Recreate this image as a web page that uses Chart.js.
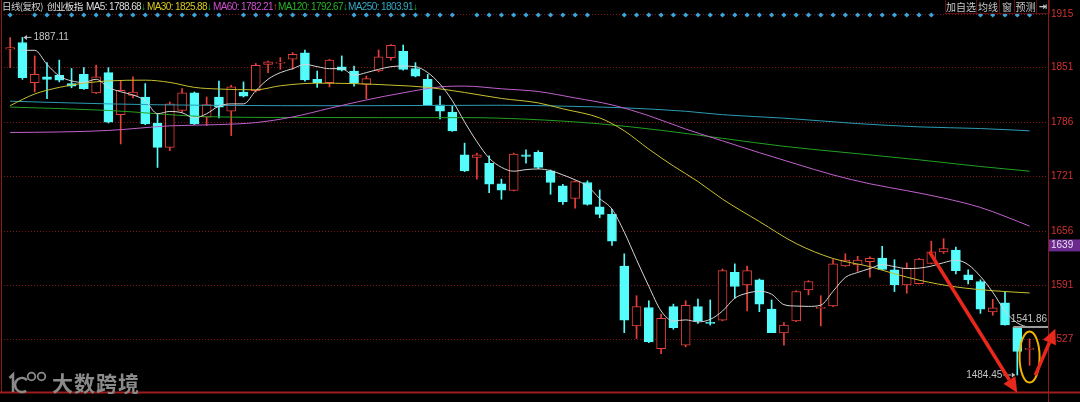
<!DOCTYPE html>
<html lang="zh-CN">
<head>
<meta charset="utf-8">
<title>创业板指 日线(复权)</title>
<script src="https://cdn.jsdelivr.net/npm/chart.js@4.4.1/dist/chart.umd.min.js"></script>
<style>
  body { margin: 0; background: #000; }
  #lienzo { position: relative; width: 1080px; height: 402px; overflow: hidden; background: #000; }
  #grafico { position: absolute; left: 0; top: 0; }
  .cab { position: absolute; top: 0; line-height: 13px; font-size: 10px; white-space: nowrap; font-family: "Liberation Sans", sans-serif; letter-spacing: -0.6px; }
  .cjk { font-family: "Noto Sans CJK SC", sans-serif; font-size: 9.5px; letter-spacing: -0.6px; color: #d0d0d0; }
  .baja { color: #1fbf3f; }
  .sube { color: #f03a3a; }
  #botones { position: absolute; left: 945px; top: 0; height: 13px; display: flex; border-left: 1px solid #5a1010; border-bottom: 1px solid #5a1010; }
  #botones span { font-family: "Noto Sans CJK SC", sans-serif; font-size: 10px; line-height: 13px; color: #c8c8c8; text-align: center; border-right: 1px solid #5a1010; }
  #marca { position: absolute; left: 52px; top: 367px; font-family: "Noto Sans CJK SC", sans-serif; font-weight: 700; font-size: 21px; color: #8a8a8a; letter-spacing: 1px; }
</style>
</head>
<body>
<div id="lienzo">
  <canvas id="grafico" width="1080" height="402"></canvas>

  <!-- Cabecera con las medias móviles -->
  <span class="cab cjk" style="left:2px">日线(复权)</span>
  <span class="cab cjk" style="left:47px;color:#e8e8e8">创业板指</span>
  <span class="cab" style="left:86px;color:#dcdcdc">MA5: 1788.68<span class="baja">↓</span></span>
  <span class="cab" style="left:147px;color:#d8c820">MA30: 1825.88<span class="baja">↓</span></span>
  <span class="cab" style="left:213px;color:#d050d0">MA60: 1782.21<span class="sube">↑</span></span>
  <span class="cab" style="left:278px;color:#26b426">MA120: 1792.67<span class="baja">↓</span></span>
  <span class="cab" style="left:348px;color:#34a8c4">MA250: 1803.91<span class="baja">↓</span></span>

  <!-- Botones de la esquina -->
  <div id="botones">
    <span style="width:30px">加自选</span>
    <span style="width:22px">均线</span>
    <span style="width:14px">窗</span>
    <span style="width:21px">预测</span>
    <span style="width:12px;font-family:'DejaVu Sans';font-weight:bold">⇥</span>
  </div>

  <!-- Marca de agua -->
  <div id="marca">大数跨境</div>
</div>

<script>
// Colores de las velas
const ROJO = '#e8403a';   // vela alcista (hueca)
const CIAN = '#54fcfc';   // vela bajista (rellena)

// Valores OHLC (vela 0 .. 83)
const aperturas = [1873, 1881, 1833, 1840, 1842, 1832, 1843, 1821, 1845, 1795,
  1818, 1816, 1785, 1756, 1800, 1821, 1792, 1816, 1799, 1822,
  1823.5, 1855, 1856.5, 1861, 1868.6, 1837, 1833, 1852, 1847, 1831,
  1847, 1863, 1870.5, 1850, 1837, 1806.6, 1798, 1747, 1744, 1737,
  1712.5, 1704.7, 1747, 1750, 1728, 1710, 1695, 1714, 1685, 1676,
  1614.5, 1543, 1565, 1516, 1566, 1520, 1566, 1547, 1550, 1607,
  1592, 1598, 1563, 1534.6, 1549, 1586, 1564, 1567, 1614.5, 1615.7,
  1619.6, 1624, 1610, 1592, 1593.4, 1617.6, 1631.4, 1633.4, 1604, 1596,
  1559.6, 1570.5, 1541.5, 1515];
const maximos = [1887, 1887.11, 1865, 1857, 1860, 1850, 1851, 1854, 1851, 1835,
  1840, 1832, 1796, 1810, 1826, 1822, 1816, 1835, 1830, 1834,
  1856, 1859, 1863, 1869, 1872, 1847, 1861, 1865, 1853, 1841,
  1872, 1878.4, 1878, 1857, 1843, 1817, 1805, 1761, 1749, 1746,
  1718, 1749, 1753, 1752, 1729, 1712, 1716, 1716, 1705, 1682,
  1629, 1579, 1573, 1557, 1569, 1573, 1575, 1574, 1611, 1617,
  1614.5, 1599, 1574, 1547, 1585, 1597, 1579, 1622, 1629, 1626,
  1625.4, 1638, 1622, 1618, 1623.5, 1644, 1647, 1637, 1610, 1598,
  1574.6, 1583, 1541.86, 1527.5];
const minimos = [1851, 1837, 1822, 1814, 1834, 1827, 1825, 1820, 1785, 1760,
  1815, 1783, 1732, 1752, 1798, 1783, 1782, 1791, 1770, 1816,
  1822, 1845, 1849, 1849, 1835, 1827.5, 1828, 1847, 1829, 1814,
  1846, 1860, 1848, 1840, 1806, 1790, 1775, 1727, 1718, 1702,
  1694, 1704, 1737, 1730.5, 1700, 1688, 1683.5, 1687, 1672, 1639,
  1535, 1528, 1523, 1510, 1539, 1518, 1546, 1544, 1549, 1576,
  1561, 1560, 1535, 1520, 1548, 1580, 1543, 1566, 1614, 1608,
  1601, 1610, 1584, 1582, 1593, 1617, 1629.4, 1605, 1593, 1558,
  1555.7, 1544, 1484.45, 1496];
const cierres = [1875, 1839, 1843, 1837, 1836, 1829, 1826, 1840, 1786, 1824,
  1822, 1784, 1756, 1808, 1821, 1784, 1807, 1804, 1828, 1817,
  1853.7, 1858, 1857.5, 1867, 1836.4, 1833, 1860, 1848, 1832.5, 1838,
  1864, 1877.6, 1849, 1841, 1806.6, 1799, 1775.7, 1728, 1747, 1712,
  1705, 1747.8, 1745, 1732, 1714, 1691, 1715, 1688, 1676, 1644,
  1550, 1566, 1524, 1552, 1541, 1567.5, 1549, 1546, 1609, 1590,
  1609, 1569, 1535, 1544, 1584, 1596, 1565, 1617, 1621.6, 1621.6,
  1623.5, 1610.5, 1592, 1612, 1622.8, 1631.4, 1635.3, 1609, 1598, 1563,
  1564.7, 1544.3, 1512.5, 1516];

// MA5 leída vela a vela (la primera no se ve)
const ma5 = [null, 1871.7, 1871.7, 1854.9, 1841.1, 1835.2, 1833.4, 1837.2, 1827.5, 1822.3,
  1818.4, 1811.7, 1796.1, 1798.8, 1797.2, 1791, 1796.1, 1805.1, 1807.8, 1807.8,
  1823.5, 1837.2, 1845.1, 1849.8, 1854.9, 1852.2, 1849.8, 1849.8, 1841.9, 1845.1,
  1849, 1852.2, 1852.9, 1852.2, 1845.1, 1831.4, 1811.7, 1786.3, 1762.8, 1743.1,
  1732.2, 1727.5, 1729.4, 1730.2, 1728.2, 1723.1, 1717.2, 1709.8, 1694.9, 1682.3,
  1654.9, 1622, 1590.2, 1560.8, 1549, 1550.2, 1547.8, 1550.8, 1560.8, 1576.1,
  1582, 1584.3, 1580.8, 1568.4, 1566.7, 1566.3, 1567.8, 1584.3, 1600.8, 1606.7,
  1611.4, 1616.1, 1613.7, 1611.4, 1611.9, 1614.3, 1618.4, 1621.4, 1616.1, 1602,
  1583.2, 1560.8, 1546.6, 1540.8];

// Medias largas: muestras leídas [vela, valor]
const ma30 = [[0, 1805.8], [2, 1819.6], [4, 1827.5], [6, 1832.5], [8, 1835.2], [11, 1836.1],
  [13, 1833.4], [15, 1827.5], [17, 1825.5], [20, 1824.6], [22, 1829.4], [25, 1832.5],
  [28, 1832], [31, 1830.2], [34, 1827.5], [37, 1821.4], [40, 1814.3], [43, 1809],
  [45, 1801.9], [48, 1791.1], [50, 1775.7], [52, 1753.8], [54, 1733.7], [56, 1715.2],
  [58, 1694.2], [61, 1667.5], [64, 1641.2], [67, 1623.4], [70, 1613.7], [72, 1605.2],
  [74, 1597.6], [77, 1589.5], [80, 1585], [83, 1582.3]];
const ma60 = [[0, 1773.7], [4, 1774.3], [8, 1776.1], [13, 1781.6], [17, 1783.1], [20, 1785.5],
  [23, 1792.2], [26, 1802.5], [29, 1812.5], [32, 1821], [35, 1828], [37, 1829],
  [40, 1825.8], [43, 1822.5], [46, 1814.9], [49, 1806.6], [52, 1793.7], [55, 1777.8],
  [58, 1763.7], [61, 1749.6], [64, 1736.1], [67, 1723.1], [70, 1712.5], [73, 1704.3],
  [76, 1695.5], [79, 1684.3], [81, 1673.7], [83, 1662]];
const ma120 = [[0, 1804], [8, 1800], [16, 1792.5], [22, 1791.6], [30, 1791.4], [37, 1791.4],
  [42, 1789.6], [48, 1784], [53, 1776.3], [58, 1766.7], [63, 1757.2], [69, 1748.4],
  [74, 1741.1], [79, 1733.1], [83, 1727.5]];
const ma250 = [[0, 1811], [8, 1807.8], [16, 1806.1], [28, 1805.6], [40, 1806.2], [45, 1805.1],
  [50, 1803.1], [55, 1799], [58, 1794.9], [63, 1790.8], [69, 1784.3], [74, 1780.4],
  [79, 1778.4], [83, 1775.7]];

// Rombos de eventos sobre la fila superior (vela en la que aparecen)
const marcadores = [0, 2, 3, 4, 5, 6, 7, 8, 9, 10, 11, 12, 13, 14, 15, 16, 17,
  19, 20, 21, 22, 23, 24, 25, 26, 28, 29, 30, 31, 32, 33, 34, 35, 36,
  38, 39, 40, 41, 42, 43, 44, 45, 46, 47, 50, 51, 52, 53, 54, 55, 56, 57, 58, 59,
  60, 61, 62, 63, 64, 65, 66, 67, 68, 69, 70, 71, 72, 73, 74, 75, 79, 80, 81, 82, 83];
const filaMarcadores = 1913.8;

// Eje de precios
const yTicks = [1915, 1851, 1786, 1721, 1656, 1591, 1527];
const precioMin = 1463, precioMax = 1915;
const precioCursor = 1639;     // recuadro morado del eje
const nivelReciente = 1541.86; // línea gris de la última vela

// Anotaciones a mano alzada (en unidades de vela / precio)
const flechas = [
  { desde: [74.85, 1631.4], hasta: [82.0, 1463.3] },
  { desde: [83.47, 1484.3], hasta: [85.1, 1539.6] }
];
const elipse = { vela: 83, precio: 1505.9 };

// Subrutina para convertir la muestra [vela, valor] en punto
const aPuntos = (lista) => lista.map(([x, y]) => ({ x, y }));

const alcista = cierres.map((c, i) => c >= aperturas[i]);
const mechas = maximos.map((h, i) => ({ x: i, y: [minimos[i], h] }));
const cuerpos = aperturas.map((o, i) => ({ x: i, y: [Math.min(o, cierres[i]), Math.max(o, cierres[i])] }));

// Subrutina para dibujar una flecha roja gruesa
function dibujarFlecha(ctx, x0, y0, x1, y1) {
  const ang = Math.atan2(y1 - y0, x1 - x0);
  const largo = 15, ancho = 7;
  const bx = x1 - largo * Math.cos(ang), by = y1 - largo * Math.sin(ang);
  ctx.beginPath();
  ctx.moveTo(x0, y0);
  ctx.lineTo(bx, by);
  ctx.stroke();
  ctx.beginPath();
  ctx.moveTo(x1, y1);
  ctx.lineTo(bx + ancho * Math.sin(ang), by - ancho * Math.cos(ang));
  ctx.lineTo(bx - ancho * Math.sin(ang), by + ancho * Math.cos(ang));
  ctx.closePath();
  ctx.fill();
}

// Plugin con el marco, etiquetas de máximo/mínimo y las marcas rojas
const decoracion = {
  id: 'decoracion',
  afterDraw(chart) {
    const { ctx, chartArea: area } = chart;
    const ex = chart.scales.x, ey = chart.scales.y;
    ctx.save();

    // Marco rojo oscuro
    ctx.strokeStyle = '#8a1a1a';
    ctx.lineWidth = 1;
    ctx.beginPath();
    ctx.moveTo(area.right + 0.5, 0); ctx.lineTo(area.right + 0.5, chart.height);
    ctx.moveTo(1.5, 0); ctx.lineTo(1.5, area.bottom);
    ctx.stroke();
    ctx.strokeStyle = '#a01c1c';
    ctx.lineWidth = 2;
    ctx.beginPath();
    ctx.moveTo(0, area.bottom - 0.5); ctx.lineTo(chart.width, area.bottom - 0.5);
    ctx.stroke();

    // Recuadro del precio del cursor
    const yc = ey.getPixelForValue(precioCursor);
    ctx.fillStyle = '#6a2a8e';
    ctx.fillRect(area.right + 1, yc - 6, chart.width - area.right - 1, 12);
    ctx.fillStyle = '#ecdcf4';
    ctx.font = '10px "Liberation Sans", sans-serif';
    ctx.textBaseline = 'middle';
    ctx.textAlign = 'left';
    ctx.fillText(String(precioCursor), area.right + 3, yc);

    // Máximo del periodo
    ctx.fillStyle = ctx.strokeStyle = '#c4c4c4';
    ctx.lineWidth = 1;
    const iMax = maximos.indexOf(Math.max(...maximos));
    const xm = ex.getPixelForValue(iMax), ym = ey.getPixelForValue(maximos[iMax]);
    ctx.beginPath(); ctx.moveTo(xm + 3, ym); ctx.lineTo(xm + 9, ym); ctx.stroke();
    ctx.beginPath(); ctx.moveTo(xm + 1, ym); ctx.lineTo(xm + 4.5, ym - 2.5); ctx.lineTo(xm + 4.5, ym + 2.5); ctx.fill();
    ctx.fillText(maximos[iMax].toFixed(2), xm + 11, ym);

    // Mínimo del periodo
    const iMin = minimos.indexOf(Math.min(...minimos));
    const xn = ex.getPixelForValue(iMin), yn = ey.getPixelForValue(minimos[iMin]);
    ctx.beginPath(); ctx.moveTo(xn - 14, yn); ctx.lineTo(xn - 6, yn); ctx.stroke();
    ctx.beginPath(); ctx.moveTo(xn - 2, yn); ctx.lineTo(xn - 5.5, yn - 2.5); ctx.lineTo(xn - 5.5, yn + 2.5); ctx.fill();
    ctx.textAlign = 'right';
    ctx.fillText(minimos[iMin].toFixed(2), xn - 15, yn);

    // Nivel reciente
    const yr = ey.getPixelForValue(nivelReciente);
    ctx.strokeStyle = '#9c9c9c';
    ctx.lineWidth = 2;
    ctx.beginPath(); ctx.moveTo(ex.getPixelForValue(82) - 4, yr); ctx.lineTo(area.right, yr); ctx.stroke();
    ctx.fillText(nivelReciente.toFixed(2), area.right - 1, yr - 8);

    // Elipse amarilla sobre la última vela
    ctx.strokeStyle = '#f2b400';
    ctx.lineWidth = 2;
    ctx.beginPath();
    ctx.ellipse(ex.getPixelForValue(elipse.vela), ey.getPixelForValue(elipse.precio), 10, 25.5, 0, 0, Math.PI * 2);
    ctx.stroke();

    // Flechas rojas
    ctx.strokeStyle = ctx.fillStyle = '#e8281c';
    ctx.lineWidth = 3.5;
    flechas.forEach(f => {
      dibujarFlecha(ctx,
        ex.getPixelForValue(f.desde[0]), ey.getPixelForValue(f.desde[1]),
        ex.getPixelForValue(f.hasta[0]), ey.getPixelForValue(f.hasta[1]));
    });

    // Logotipo de la marca de agua
    ctx.strokeStyle = '#8a8a8a';
    ctx.lineWidth = 2.5;
    ctx.beginPath(); ctx.moveTo(9.5, 378); ctx.lineTo(13, 374.5); ctx.lineTo(13, 392); ctx.stroke();
    ctx.beginPath(); ctx.arc(22, 385, 7, 0.3 * Math.PI, 1.75 * Math.PI); ctx.stroke();
    ctx.lineWidth = 1.8;
    ctx.beginPath(); ctx.arc(31.5, 376.5, 3.8, 0, Math.PI * 2); ctx.stroke();
    ctx.beginPath(); ctx.arc(41.5, 376.5, 3.8, 0, Math.PI * 2); ctx.stroke();

    ctx.restore();
  }
};

const lineaMA = (etiqueta, datos, color, tension) => ({
  type: 'line',
  label: etiqueta,
  data: datos,
  borderColor: color,
  borderWidth: 1,
  pointRadius: 0,
  tension: tension,
  cubicInterpolationMode: 'monotone',
  order: 0
});

// Crear el gráfico
new Chart(document.getElementById('grafico'), {
  type: 'bar',
  data: {
    datasets: [
      lineaMA('MA5', ma5.map((v, i) => ({ x: i, y: v })).filter(p => p.y !== null), '#d4d4d4', 0.2),
      lineaMA('MA30', aPuntos(ma30), '#c8c030', 0.4),
      lineaMA('MA60', aPuntos(ma60), '#c060cc', 0.4),
      lineaMA('MA120', aPuntos(ma120), '#22a022', 0.4),
      lineaMA('MA250', aPuntos(ma250), '#2c9cb4', 0.4),
      {
        label: 'cuerpo',
        data: cuerpos,
        backgroundColor: alcista.map(a => a ? '#000000' : CIAN),
        borderColor: alcista.map(a => a ? ROJO : CIAN),
        borderWidth: 1,
        borderSkipped: false,
        barThickness: 9,
        minBarLength: 1,
        grouped: false,
        order: 1
      },
      {
        label: 'mecha',
        data: mechas,
        backgroundColor: alcista.map(a => a ? ROJO : CIAN),
        borderWidth: 0,
        barThickness: 1,
        grouped: false,
        order: 2
      },
      {
        type: 'scatter',
        label: 'eventos',
        data: marcadores.map(k => ({ x: k, y: filaMarcadores })),
        pointStyle: 'rectRot',
        pointRadius: 2.6,
        backgroundColor: '#3aa6dc',
        borderWidth: 0,
        clip: false,
        order: 3
      }
    ]
  },
  options: {
    responsive: false,
    devicePixelRatio: 1,
    animation: false,
    events: [],
    layout: { padding: { left: 2, right: 0, top: 14, bottom: 4 } },
    plugins: { legend: { display: false }, tooltip: { enabled: false } },
    scales: {
      x: { type: 'linear', min: -0.5, max: 84.5, offset: false, display: false },
      y: {
        position: 'right',
        min: precioMin,
        max: precioMax,
        afterBuildTicks: (eje) => { eje.ticks = yTicks.map(v => ({ value: v })); },
        afterFit: (eje) => { eje.width = 32; },
        ticks: {
          color: '#d23232',
          font: { family: 'Liberation Sans', size: 10 },
          padding: 3,
          callback: (v) => String(v)
        },
        grid: { color: '#7a1616', lineWidth: 1, drawTicks: false },
        border: { display: false, dash: [1, 2] }
      }
    }
  },
  plugins: [decoracion]
});
</script>
</body>
</html>
